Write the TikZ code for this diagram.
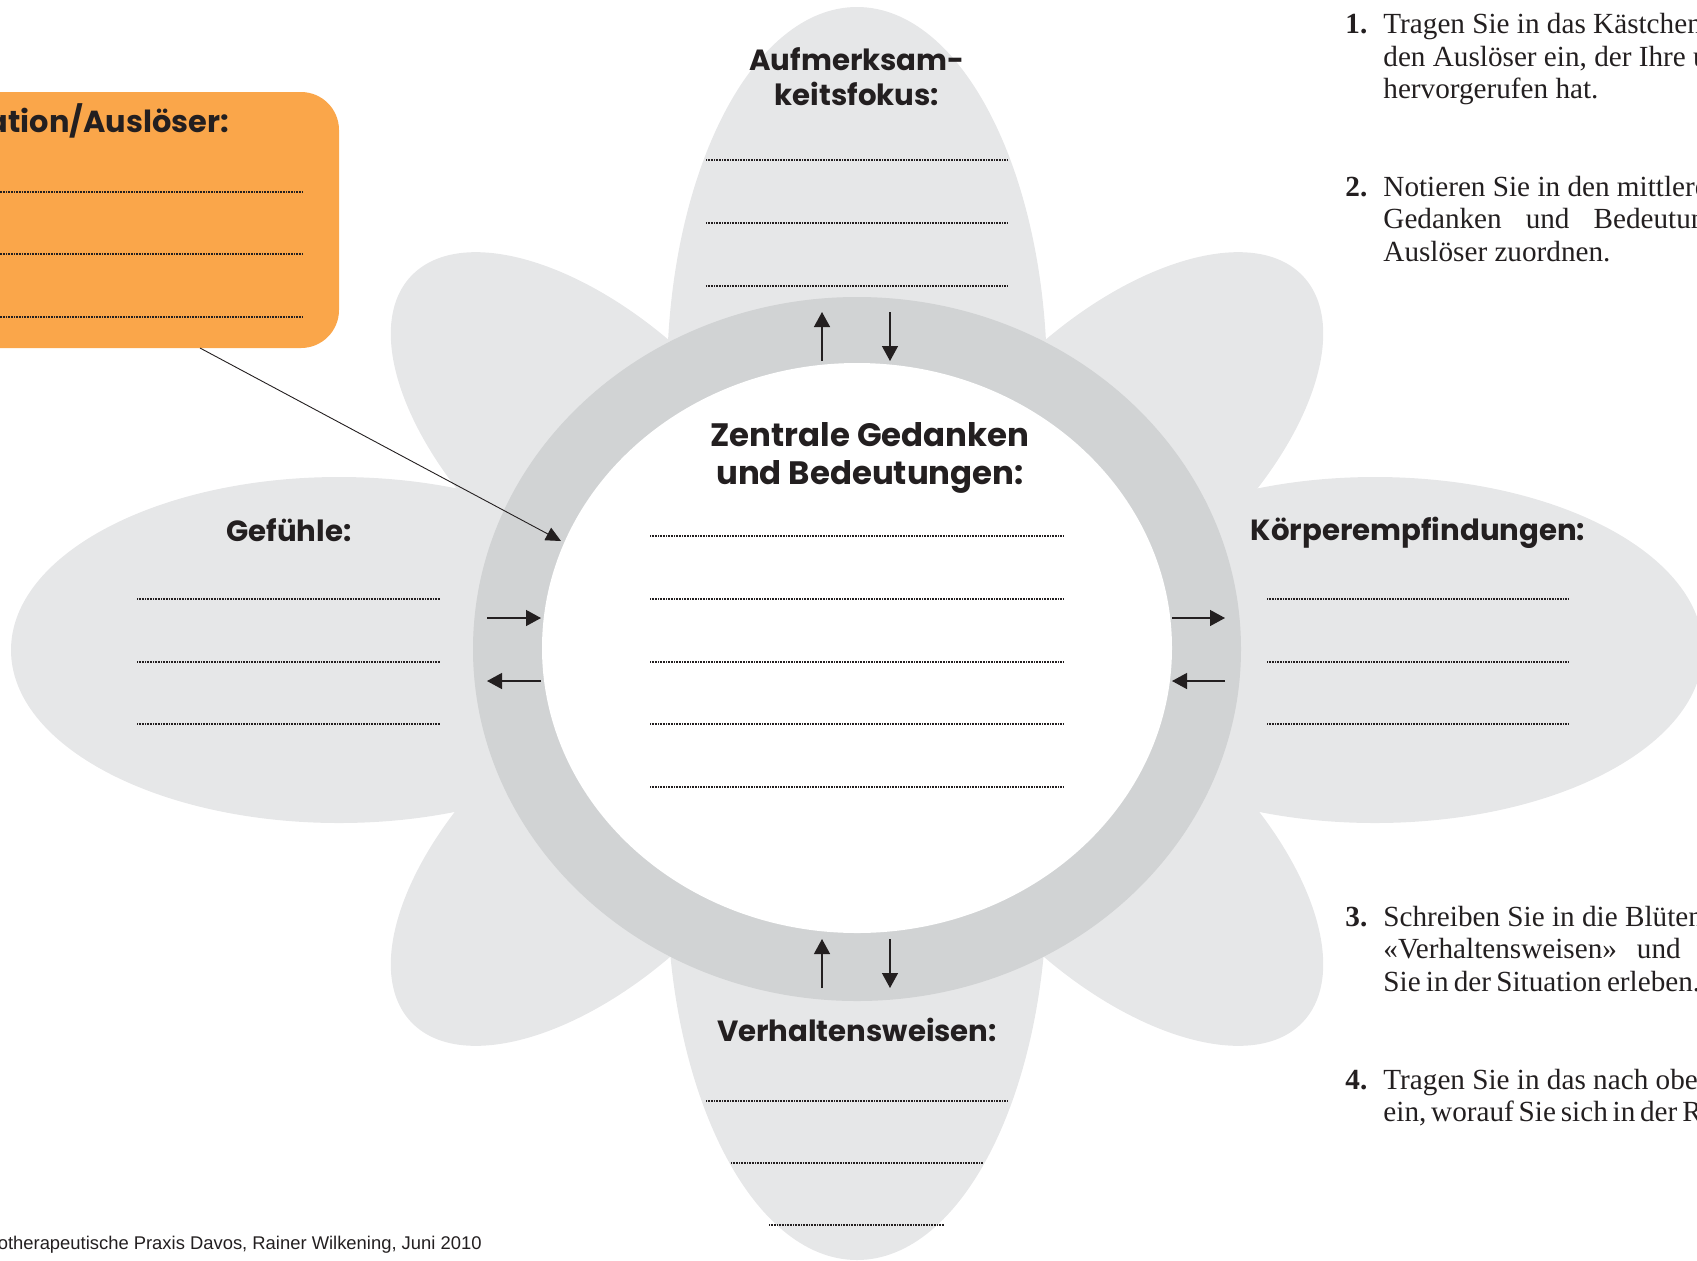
\documentclass[tikz,border=0pt]{standalone}
\usepackage{fontspec}
\setmainfont{Liberation Serif}
\newfontfamily\gothic{Poppins}
\newfontfamily\arial{Liberation Sans}
\usetikzlibrary{arrows.meta}

\definecolor{petalgray}{RGB}{230,231,232}
\definecolor{ringgray}{RGB}{209,211,212}
\definecolor{triggerorange}{RGB}{250,166,74}
\definecolor{ink}{RGB}{35,31,32}

\begin{document}
\begin{tikzpicture}[
        x=0.5pt, y=-0.5pt,
        petal/.style = {fill=petalgray},
        flow/.style = {-{Triangle[length=7.5pt,width=8pt]}, line width=0.7pt, draw=ink},
        leader/.style = {-{Triangle[length=7.5pt,width=7pt]}, line width=0.45pt, draw=ink},
        fillin/.style = {draw=ink, line width=0.6pt, dash pattern=on 0.4pt off 0.4pt},
        heading/.style = {font=\gothic\bfseries\fontsize{14.6}{17.5}\selectfont,
              text=ink, align=center, inner sep=0pt},
        triggerbox/.style = {fill=triggerorange, rounded corners=19pt, inner sep=0pt,
              minimum width=269.5pt, minimum height=128pt},
        task/.style = {font=\fontsize{14.6}{16.25}\selectfont, text=ink,
              align=left, anchor=base west, inner sep=0pt},
        tasknum/.style = {font=\bfseries\fontsize{14.6}{16.25}\selectfont, text=ink,
              anchor=base west, inner sep=0pt},
    ]
    \useasboundingbox (0,0) rectangle (1697,1260);
    \clip (0,0) rectangle (1697,1260);

    % petals
    \fill[petal] (857,380) ellipse [x radius=190, y radius=373];
    \fill[petal] (857,885) ellipse [x radius=190, y radius=375];
    \fill[petal] (339,650) ellipse [x radius=328, y radius=173];
    \fill[petal] (1375,650) ellipse [x radius=328, y radius=173];
    \fill[petal, rotate around={-43:(598,451)}] (598,451) ellipse [x radius=256, y radius=130];
    \fill[petal, rotate around={43:(1116,451)}] (1116,451) ellipse [x radius=256, y radius=130];
    \fill[petal, rotate around={43:(598,847)}] (598,847) ellipse [x radius=256, y radius=130];
    \fill[petal, rotate around={-43:(1116,847)}] (1116,847) ellipse [x radius=256, y radius=130];

    % ring round the centre
    \fill[ringgray] (857,649) ellipse [x radius=384, y radius=352];
    \fill[white] (857,648) ellipse [x radius=315, y radius=285];

    % headings
    \node[heading] (focus) at (857,77) {Aufmerksam-\\keitsfokus:};
    \node[heading, font=\gothic\bfseries\fontsize{16.2}{19}\selectfont] (thoughts) at (870,458) {Zentrale Gedanken\\und Bedeutungen:};
    \node[heading] (feelings) at (289,530) {Gefühle:};
    \node[heading] (body) at (1418,533) {Körperempfindungen:};
    \node[heading] (behaviour) at (857,1030) {Verhaltensweisen:};

    % lines to write on
    \draw[fillin] (706,160) -- (1008,160);
    \draw[fillin] (706,223) -- (1008,223);
    \draw[fillin] (706,286) -- (1008,286);
    \draw[fillin] (650,536) -- (1063,536);
    \draw[fillin] (650,599) -- (1063,599);
    \draw[fillin] (650,662) -- (1063,662);
    \draw[fillin] (650,724) -- (1063,724);
    \draw[fillin] (650,787) -- (1063,787);
    \draw[fillin] (137,599) -- (440,599);
    \draw[fillin] (137,662) -- (440,662);
    \draw[fillin] (137,724) -- (440,724);
    \draw[fillin] (1267,599) -- (1569,599);
    \draw[fillin] (1267,662) -- (1569,662);
    \draw[fillin] (1267,724) -- (1569,724);
    \draw[fillin] (706,1101) -- (1008,1101);
    \draw[fillin] (731,1163) -- (983,1163);
    \draw[fillin] (769,1225) -- (944,1225);

    % arrows across the ring
    \coordinate (focus-in) at (822,361);   \coordinate (focus-out) at (822,312);
    \coordinate (focus-top) at (890,312);  \coordinate (focus-bot) at (890,361);
    \coordinate (act-in) at (822,988);     \coordinate (act-out) at (822,939);
    \coordinate (act-top) at (890,939);    \coordinate (act-bot) at (890,988);
    \coordinate (feel-out) at (487,618);   \coordinate (feel-in) at (541,618);
    \coordinate (feel-in2) at (541,681);   \coordinate (feel-out2) at (487,681);
    \coordinate (body-in) at (1172,618);   \coordinate (body-out) at (1225,618);
    \coordinate (body-out2) at (1225,681); \coordinate (body-in2) at (1172,681);
    \draw[flow] (focus-in) -- (focus-out);
    \draw[flow] (focus-top) -- (focus-bot);
    \draw[flow] (act-in) -- (act-out);
    \draw[flow] (act-top) -- (act-bot);
    \draw[flow] (feel-out) -- (feel-in);
    \draw[flow] (feel-in2) -- (feel-out2);
    \draw[flow] (body-in) -- (body-out);
    \draw[flow] (body-out2) -- (body-in2);

    % trigger box
    \node[triggerbox] (trigger) at (69.5,220) {};
    \node[heading, font=\gothic\bfseries\fontsize{15.2}{17.5}\selectfont, anchor=east] (triggertitle) at (229.5,121) {Situation/Auslöser:};
    \draw[fillin] (-10,192) -- (303,192);
    \draw[fillin] (-10,254) -- (303,254);
    \draw[fillin] (-10,317) -- (303,317);
    \coordinate (tail) at (200,348);
    \coordinate (hit) at (561,541);
    \draw[leader] (tail) -- (hit);

    % steps (a block sits on the baseline of its last line)
    \node[tasknum] (n1) at (1345,33.5) {1.};
    \node[task] (t1) at (1383,98.5) {Tragen Sie in das Kästchen\\den Auslöser ein, der Ihre u\\hervorgerufen hat.};
    \node[tasknum] (n2) at (1345,196) {2.};
    \node[task] (t2) at (1383,261) {Notieren Sie in den mittleren\\Gedanken\hspace{12pt}und\hspace{12pt}Bedeutungen\\Auslöser zuordnen.};
    \node[tasknum] (n3) at (1345,926) {3.};
    \node[task] (t3) at (1383,991) {Schreiben Sie in die Blüten\\«Verhaltensweisen»\hspace{10pt}und\\{\spaceskip=2.6pt Sie in der Situation erleben.}};
    \node[tasknum] (n4) at (1345,1089) {4.};
    \node[task] (t4) at (1383,1121.5) {Tragen Sie in das nach oben\\{\spaceskip=2.4pt ein, worauf Sie sich in der R}};

    \node[font=\arial\fontsize{9.2}{11}\selectfont, text=ink, anchor=east, inner sep=0pt] (credit) at (482,1245) {Psychotherapeutische Praxis Davos, Rainer Wilkening, Juni 2010};
\end{tikzpicture}
\end{document}
